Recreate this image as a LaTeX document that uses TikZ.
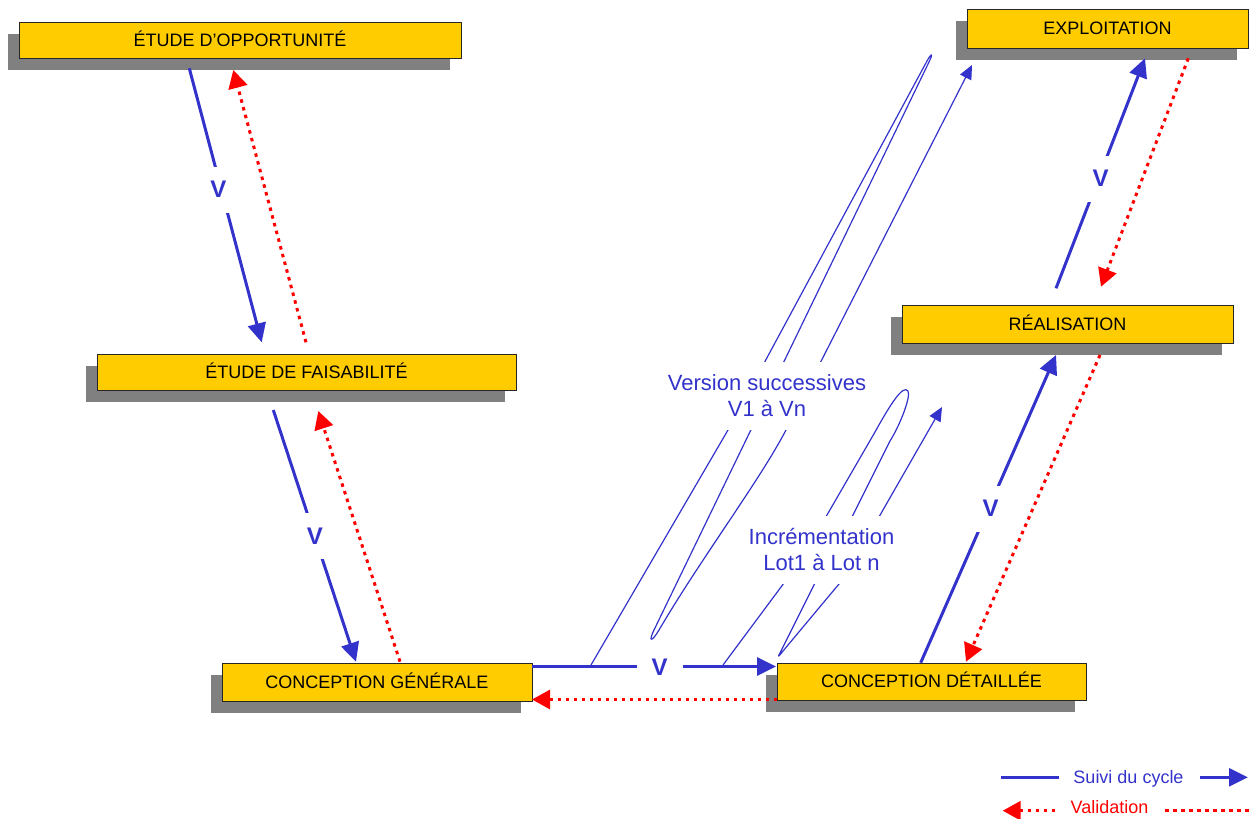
\documentclass[tikz,border=0pt]{standalone}
\usepackage{fontspec}
\setmainfont{Liberation Sans}
\usetikzlibrary{arrows.meta,shadows}
\definecolor{cycleblue}{HTML}{3333CC}
\definecolor{valred}{HTML}{FF0000}
\definecolor{phaseyellow}{HTML}{FFCC00}
\definecolor{shadowgray}{HTML}{808080}

\begin{document}
\begin{tikzpicture}[x=1pt,y=-1pt,
  phase/.style={draw=black!85, line width=0.8pt, fill=phaseyellow, inner sep=0pt,
    text height=12.9pt, text depth=0pt, font=\fontsize{18}{21}\selectfont,
    drop shadow={shadow xshift=-11pt, shadow yshift=-12pt, fill=shadowgray, opacity=1}},
  cycleline/.style={draw=cycleblue, line width=3pt},
  cyclearrow/.style={cycleline, -{Triangle[length=19pt,width=18pt]}},
  validline/.style={draw=valred, line width=3pt, dash pattern=on 3.5pt off 4.5pt},
  validarrow/.style={validline, -{Triangle[length=18pt,width=19pt]}},
  vtag/.style={fill=white, text=cycleblue, font=\bfseries\fontsize{24}{24}\selectfont,
    minimum width=46pt, minimum height=46pt, inner sep=0pt},
  iter/.style={draw=cycleblue, line width=1.2pt, line join=round,
    -{Triangle[length=14pt,width=12.5pt]}},
  iterlabel/.style={fill=white, text=cycleblue, align=center,
    font=\fontsize{22}{26}\selectfont, inner xsep=6pt, inner ysep=12.5pt},
  legendtext/.style={font=\fontsize{18}{21}\selectfont, inner sep=0pt, anchor=base}
]
\useasboundingbox (0,0) rectangle (1253,819);

% project phases
\node[phase, minimum width=442pt, minimum height=36pt] (opp)  at (240,40)       {ÉTUDE D’OPPORTUNITÉ};
\node[phase, minimum width=419pt, minimum height=36pt] (fais) at (306.5,372)    {ÉTUDE DE FAISABILITÉ};
\node[phase, minimum width=310pt, minimum height=38pt] (cg)   at (377,682)      {CONCEPTION GÉNÉRALE};
\node[phase, minimum width=309pt, minimum height=37pt] (cd)   at (931.5,681.5)  {CONCEPTION DÉTAILLÉE};
\node[phase, minimum width=331pt, minimum height=38pt] (real) at (1067.5,324)   {RÉALISATION};
\node[phase, minimum width=281pt, minimum height=39pt] (expl) at (1107.5,28.5)  {EXPLOITATION};

% iteration loops
\draw[iter] (591,665) -- (728,430) -- (927,61)
  .. controls (931.8,52.2) and (933.4,53) .. (929,62) -- (654,630)
  .. controls (647.9,642.6) and (651.9,642.1) .. (659,630)
  .. controls (700,560) and (760,480) .. (786,430) -- (972,65);
\draw[iter] (723,665) -- (784,583) -- (827,515) -- (875,432)
  .. controls (890,405) and (903,384) .. (908,391)
  .. controls (911,397) and (900,425) .. (890,441)
  -- (853,515) -- (815,583) -- (784,645)
  .. controls (776,661) and (776.4,658.8) .. (788,645)
  -- (844,578) -- (942,407);
\node[iterlabel] (vers) at (767,396) {Version successives\\V1 à Vn};
\node[iterlabel] (incr) at (821.5,550) {Incrémentation\\Lot1 à Lot n};

% arrow end points
\coordinate (s1) at (189.3,68.3);  \coordinate (e1) at (261.7,342.3);
\coordinate (s2) at (273.3,410);   \coordinate (e2) at (356,661.7);
\coordinate (s3) at (531.7,666.5); \coordinate (e3) at (776,666.5);
\coordinate (s4) at (920.7,662.7); \coordinate (e4) at (1056,355);
\coordinate (s5) at (1056,288.3);  \coordinate (e5) at (1145,58.3);
\coordinate (r1s) at (306,342.3);  \coordinate (r1e) at (233.3,70);
\coordinate (r2s) at (400,661.7);  \coordinate (r2e) at (318.3,411);
\coordinate (r3s) at (777,699.5);  \coordinate (r3e) at (532,699.5);
\coordinate (r4s) at (1100,355);   \coordinate (r4e) at (966,661.7);
\coordinate (r5s) at (1188.3,58.3);\coordinate (r5e) at (1101,286.7);

% validation (red, dotted)
\draw[validarrow] (r1s) -- (r1e);
\draw[validarrow] (r2s) -- (r2e);
\draw[validarrow] (r3s) -- (r3e);
\draw[validarrow] (r4s) -- (r4e);
\draw[validarrow] (r5s) -- (r5e);

% cycle follow-up (blue)
\draw[cyclearrow] (s1) -- (e1);
\draw[cyclearrow] (s2) -- (e2);
\draw[cyclearrow] (s3) -- (e3);
\draw[cyclearrow] (s4) -- (e4);
\draw[cyclearrow] (s5) -- (e5);
\node[vtag] (v1) at (218.5,189.7) {V};
\node[vtag] (v2) at (315,535.8)   {V};
\node[vtag] (v3) at (659.7,667.5) {V};
\node[vtag] (v4) at (990.5,508.5) {V};
\node[vtag] (v5) at (1100.5,178.5){V};

% legend
\coordinate (la1) at (1001,777.3); \coordinate (la2) at (1059,777.3);
\coordinate (la3) at (1200,777.3); \coordinate (la4) at (1248,777.3);
\coordinate (lb1) at (1055,810.7); \coordinate (lb2) at (1002.7,810.7);
\coordinate (lb3) at (1165,810.7); \coordinate (lb4) at (1250,810.7);
\node[legendtext, text=cycleblue] (lsuivi) at (1128.5,783.3) {Suivi du cycle};
\node[legendtext, text=valred]    (lvalid) at (1109.5,813.3) {Validation};
\draw[cycleline] (la1) -- (la2);
\draw[cyclearrow] (la3) -- (la4);
\draw[validarrow] (lb1) -- (lb2);
\draw[validline] (lb3) -- (lb4);
\end{tikzpicture}
\end{document}
